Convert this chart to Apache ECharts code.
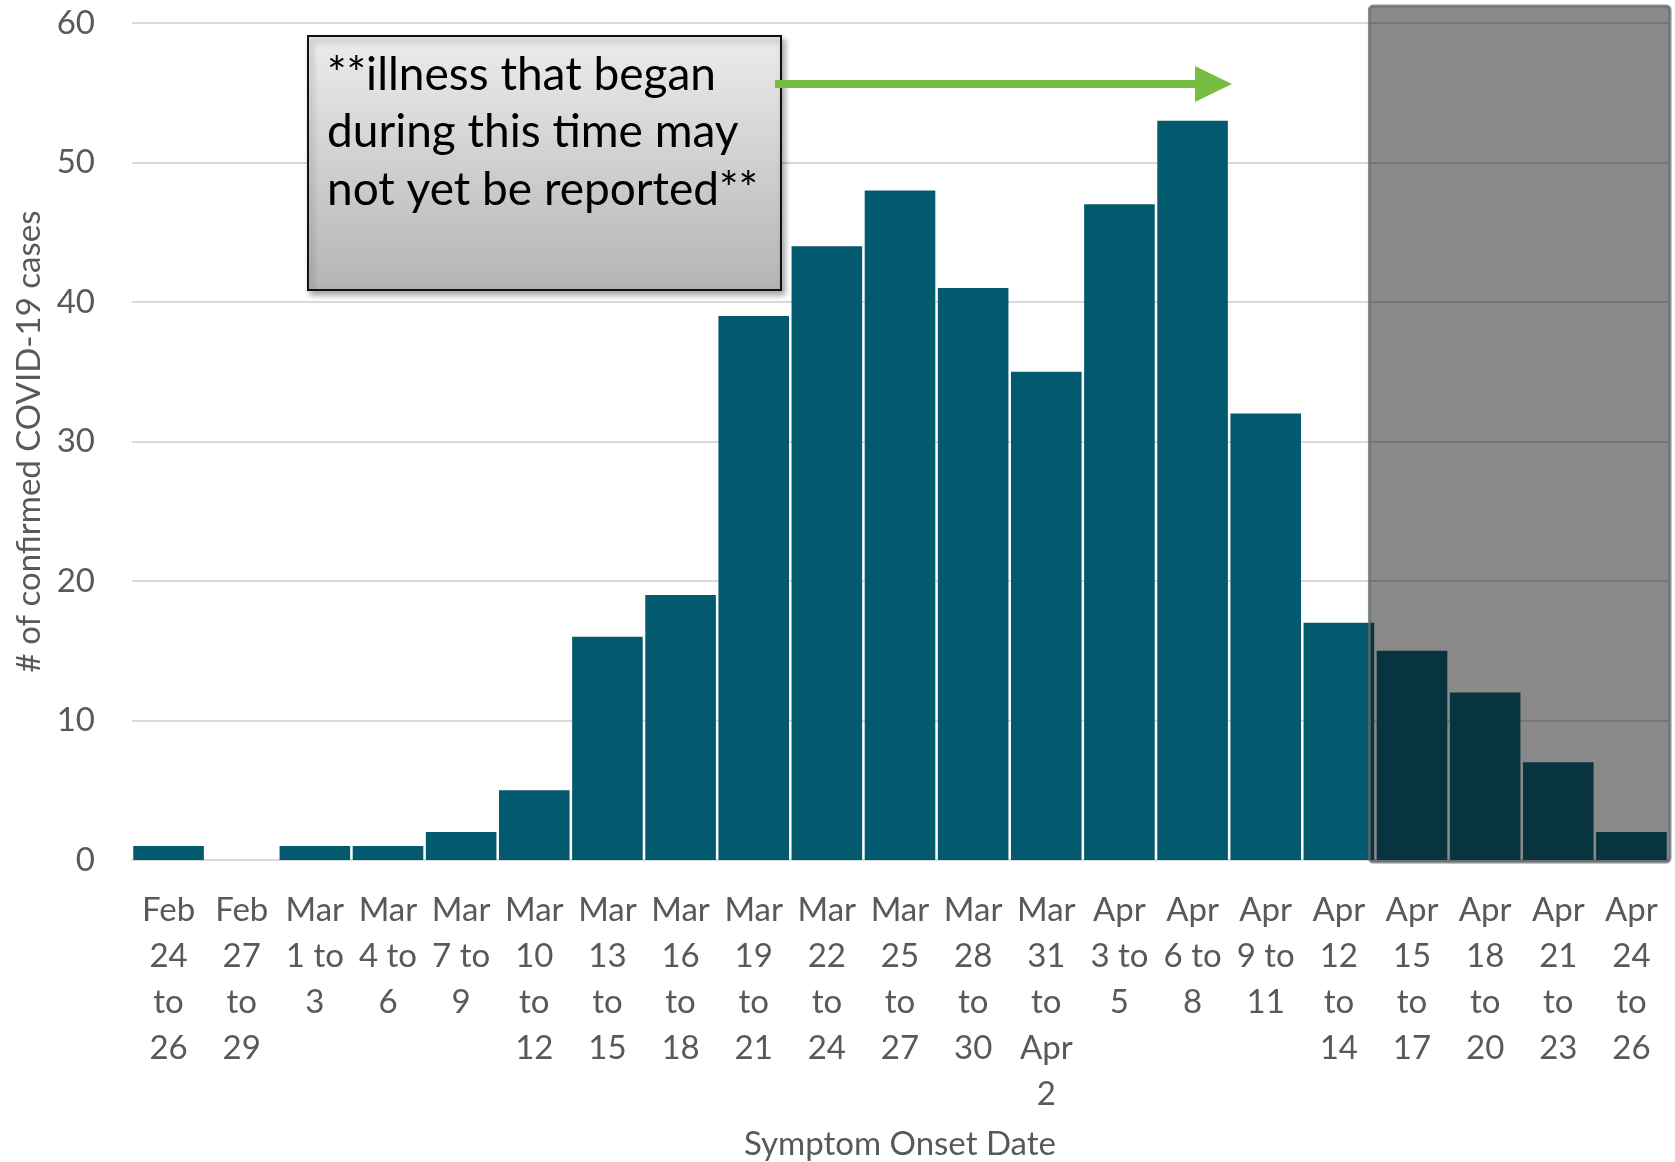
<!DOCTYPE html>
<html>
<head>
<meta charset="utf-8">
<title>COVID-19 cases by symptom onset date</title>
<script src="https://cdn.jsdelivr.net/npm/echarts@6/dist/echarts.min.js"></script>
<style>
  html, body { margin: 0; padding: 0; background: #fff; }
  #chart { width: 1675px; height: 1162px; }
</style>
</head>
<body>
<div id="chart"></div>
<script>
// 3-day buckets of symptom onset
var categories = [
  'Feb 24 to 26', 'Feb 27 to 29', 'Mar 1 to 3', 'Mar 4 to 6', 'Mar 7 to 9',
  'Mar 10 to 12', 'Mar 13 to 15', 'Mar 16 to 18', 'Mar 19 to 21', 'Mar 22 to 24',
  'Mar 25 to 27', 'Mar 28 to 30', 'Mar 31 to Apr 2', 'Apr 3 to 5', 'Apr 6 to 8',
  'Apr 9 to 11', 'Apr 12 to 14', 'Apr 15 to 17', 'Apr 18 to 20', 'Apr 21 to 23',
  'Apr 24 to 26'
];
// labels as they wrap on the chart
var tickLabels = [
  'Feb\n24\nto\n26', 'Feb\n27\nto\n29', 'Mar\n1 to\n3', 'Mar\n4 to\n6', 'Mar\n7 to\n9',
  'Mar\n10\nto\n12', 'Mar\n13\nto\n15', 'Mar\n16\nto\n18', 'Mar\n19\nto\n21', 'Mar\n22\nto\n24',
  'Mar\n25\nto\n27', 'Mar\n28\nto\n30', 'Mar\n31\nto\nApr\n2', 'Apr\n3 to\n5', 'Apr\n6 to\n8',
  'Apr\n9 to\n11', 'Apr\n12\nto\n14', 'Apr\n15\nto\n17', 'Apr\n18\nto\n20', 'Apr\n21\nto\n23',
  'Apr\n24\nto\n26'
];
var cases = [1, 0, 1, 1, 2, 5, 16, 19, 39, 44, 48, 41, 35, 47, 53, 32, 17, 15, 12, 7, 2];
var yTicks = [0, 10, 20, 30, 40, 50, 60];
// first bucket that may not be fully reported yet
var lagStart = 'Apr 15 to 17';

var FONT = 'Lato, "Open Sans", sans-serif';
var GREY = '#595959';

var myChart = echarts.init(document.getElementById('chart'));

myChart.setOption({
  animation: false,
  grid: { left: 132, right: 7, top: 23, bottom: 302, outerBoundsMode: 'none' },
  xAxis: {
    type: 'category',
    data: categories,
    name: 'Symptom Onset Date',
    nameLocation: 'middle',
    nameGap: 268,
    nameTextStyle: { fontFamily: FONT, fontSize: 33, color: GREY },
    axisLine: { show: true, lineStyle: { color: '#d9d9d9', width: 2 } },
    axisTick: { show: false },
    axisLabel: {
      interval: 0,
      margin: 27,
      fontFamily: FONT,
      fontSize: 33,
      lineHeight: 46,
      color: GREY,
      formatter: function(value, index) {
        return tickLabels[index];
      }
    }
  },
  yAxis: {
    type: 'value',
    min: yTicks[0],
    max: yTicks[yTicks.length - 1],
    interval: 10,
    name: '# of confirmed COVID-19 cases',
    nameLocation: 'middle',
    nameGap: 82,
    nameTextStyle: { fontFamily: FONT, fontSize: 33, color: GREY },
    axisLine: { show: false },
    axisTick: { show: false },
    axisLabel: { margin: 37, fontFamily: FONT, fontSize: 33, color: GREY },
    splitLine: { lineStyle: { color: '#d9d9d9', width: 2 } }
  },
  series: [{
    type: 'bar',
    data: cases,
    barCategoryGap: '3.5%',
    itemStyle: { color: '#035a6e' }
  }]
});

// shaded block over the lagging weeks, placed from the axis itself
var c0 = myChart.convertToPixel({ xAxisIndex: 0 }, categories[0]);
var c1 = myChart.convertToPixel({ xAxisIndex: 0 }, categories[1]);
var band = c1 - c0;
var lagX = myChart.convertToPixel({ xAxisIndex: 0 }, lagStart) - band / 2 - 6;
var yTop = myChart.convertToPixel({ yAxisIndex: 0 }, yTicks[yTicks.length - 1]);
var yZero = myChart.convertToPixel({ yAxisIndex: 0 }, 0);
var lastX = myChart.convertToPixel({ xAxisIndex: 0 }, categories[categories.length - 1]) + band / 2;

myChart.setOption({
  graphic: [
    {
      type: 'rect',
      z: 100,
      shape: { x: lagX, y: yTop - 17, width: lastX - lagX + 2, height: yZero - yTop + 19, r: 4 },
      style: {
        fill: 'rgba(12,12,12,0.485)',
        stroke: 'rgba(100,106,112,0.75)',
        lineWidth: 3
      }
    },
    {
      // note box
      type: 'group',
      z: 110,
      left: 307,
      top: 35,
      children: [
        {
          type: 'rect',
          shape: { x: 0, y: 0, width: 473, height: 254 },
          style: {
            fill: new echarts.graphic.LinearGradient(0, 0, 0, 1, [
              { offset: 0, color: '#ececec' },
              { offset: 1, color: '#b4b4b4' }
            ]),
            stroke: '#111',
            lineWidth: 2,
            shadowBlur: 6,
            shadowOffsetX: 3,
            shadowOffsetY: 4,
            shadowColor: 'rgba(0,0,0,0.35)'
          }
        },
        {
          type: 'text',
          x: 19,
          y: 10,
          style: {
            text: '**illness that began\nduring this time may\nnot yet be reported**',
            font: '46px ' + FONT,
            lineHeight: 57.5,
            fill: '#000'
          }
        }
      ]
    },
    {
      // green arrow pointing to the right
      type: 'polygon',
      z: 110,
      shape: {
        points: [[775, 80], [1195, 80], [1195, 66], [1232, 84], [1195, 102], [1195, 88], [775, 88]]
      },
      style: { fill: '#78bd43' }
    }
  ]
});
</script>
</body>
</html>
